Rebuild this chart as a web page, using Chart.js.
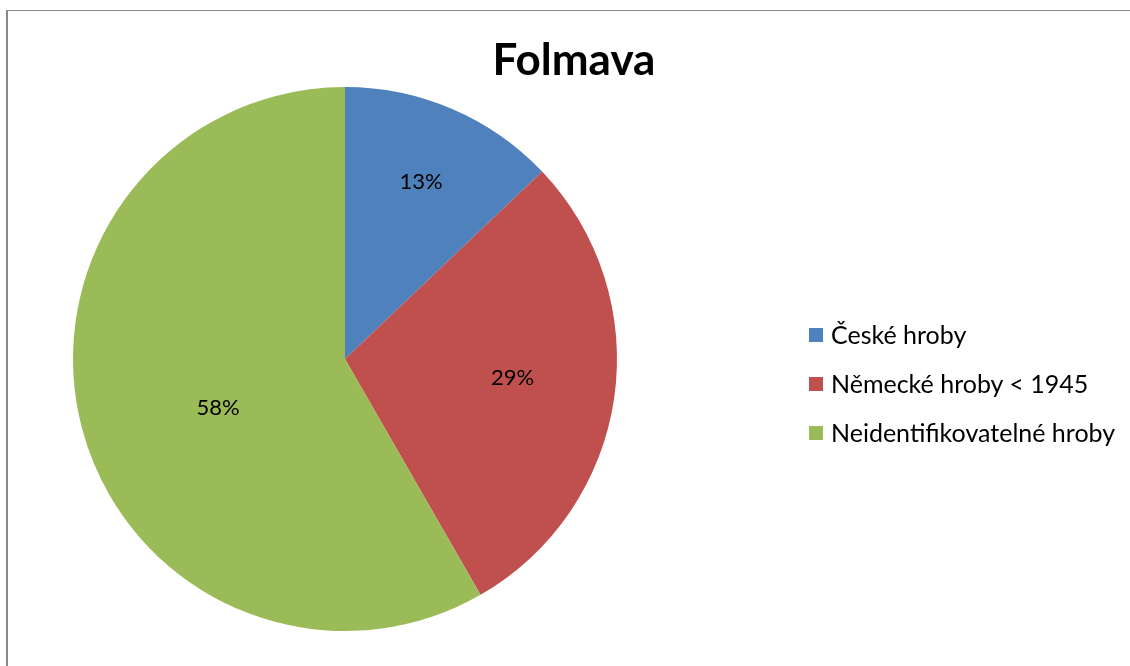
<!DOCTYPE html>
<html>
<head>
<meta charset="utf-8">
<script src="https://cdn.jsdelivr.net/npm/chart.js@4/dist/chart.umd.min.js"></script>
<style>
  html, body { margin: 0; padding: 0; background: #fff; }
  #wrap { position: relative; width: 1130px; height: 666px; overflow: hidden; font-family: Lato, "Open Sans", sans-serif; }
  #frame { position: absolute; left: 6px; top: 10px; width: 1200px; height: 700px; border: 1px solid #888; box-sizing: border-box; border-left-width: 2px; }
  #title { position: absolute; left: 0; width: 1148px; top: 32px; line-height: 52px; text-align: center; font-weight: bold; font-size: 44px; color: #000; }
  #c { position: absolute; left: 0; top: 0; }
  #legend { position: absolute; left: 809px; top: 319px; font-size: 25px; color: #000; }
  .item { height: 49px; line-height: 30px; display: flex; align-items: flex-start; white-space: nowrap; }
  .sw { width: 14px; height: 14px; margin-top: 9px; margin-right: 8px; }
</style>
</head>
<body>
<div id="wrap">
  <div id="frame"></div>
  <canvas id="c" width="1130" height="666"></canvas>
  <div id="title"></div>
  <div id="legend"></div>
</div>
<script>
const chartTitle = "Folmava";
const categories = ["České hroby", "Německé hroby < 1945", "Neidentifikovatelné hroby"];
const shares = [12.9, 28.8, 58.3];
const colors = ["#4F81BD", "#C0504D", "#9BBB59"];
const labelRadius = [0.71, 0.62, 0.5];
const labelAngleShiftDeg = [0, -2, -6];

document.getElementById('title').textContent = chartTitle;
const leg = document.getElementById('legend');
categories.forEach((c, i) => {
  const d = document.createElement('div'); d.className = 'item';
  const s = document.createElement('div'); s.className = 'sw'; s.style.background = colors[i];
  const t = document.createElement('span'); t.textContent = c;
  d.appendChild(s); d.appendChild(t); leg.appendChild(d);
});

const pctLabels = {
  id: 'pctLabels',
  afterDatasetsDraw(chart) {
    const ctx = chart.ctx;
    const meta = chart.getDatasetMeta(0);
    const total = shares.reduce((a, b) => a + b, 0);
    ctx.save();
    ctx.font = '22px Lato, "Open Sans", sans-serif';
    ctx.fillStyle = '#000';
    ctx.textAlign = 'center';
    ctx.textBaseline = 'middle';
    meta.data.forEach((arc, i) => {
      const p = arc.getProps(['x', 'y', 'startAngle', 'endAngle', 'outerRadius'], true);
      const mid = (p.startAngle + p.endAngle) / 2 + labelAngleShiftDeg[i] * Math.PI / 180;
      const r = p.outerRadius * labelRadius[i];
      ctx.fillText(Math.round(shares[i] / total * 100) + '%', p.x + Math.cos(mid) * r, p.y + Math.sin(mid) * r);
    });
    ctx.restore();
  }
};

new Chart(document.getElementById('c'), {
  type: 'pie',
  data: {
    labels: categories,
    datasets: [{ data: shares, backgroundColor: colors, borderWidth: 0 }]
  },
  options: {
    responsive: false,
    animation: false,
    layout: { padding: { left: 73, right: 513, top: 87, bottom: 35 } },
    plugins: { legend: { display: false }, tooltip: { enabled: false }, title: { display: false } }
  },
  plugins: [pctLabels]
});
</script>
</body>
</html>
